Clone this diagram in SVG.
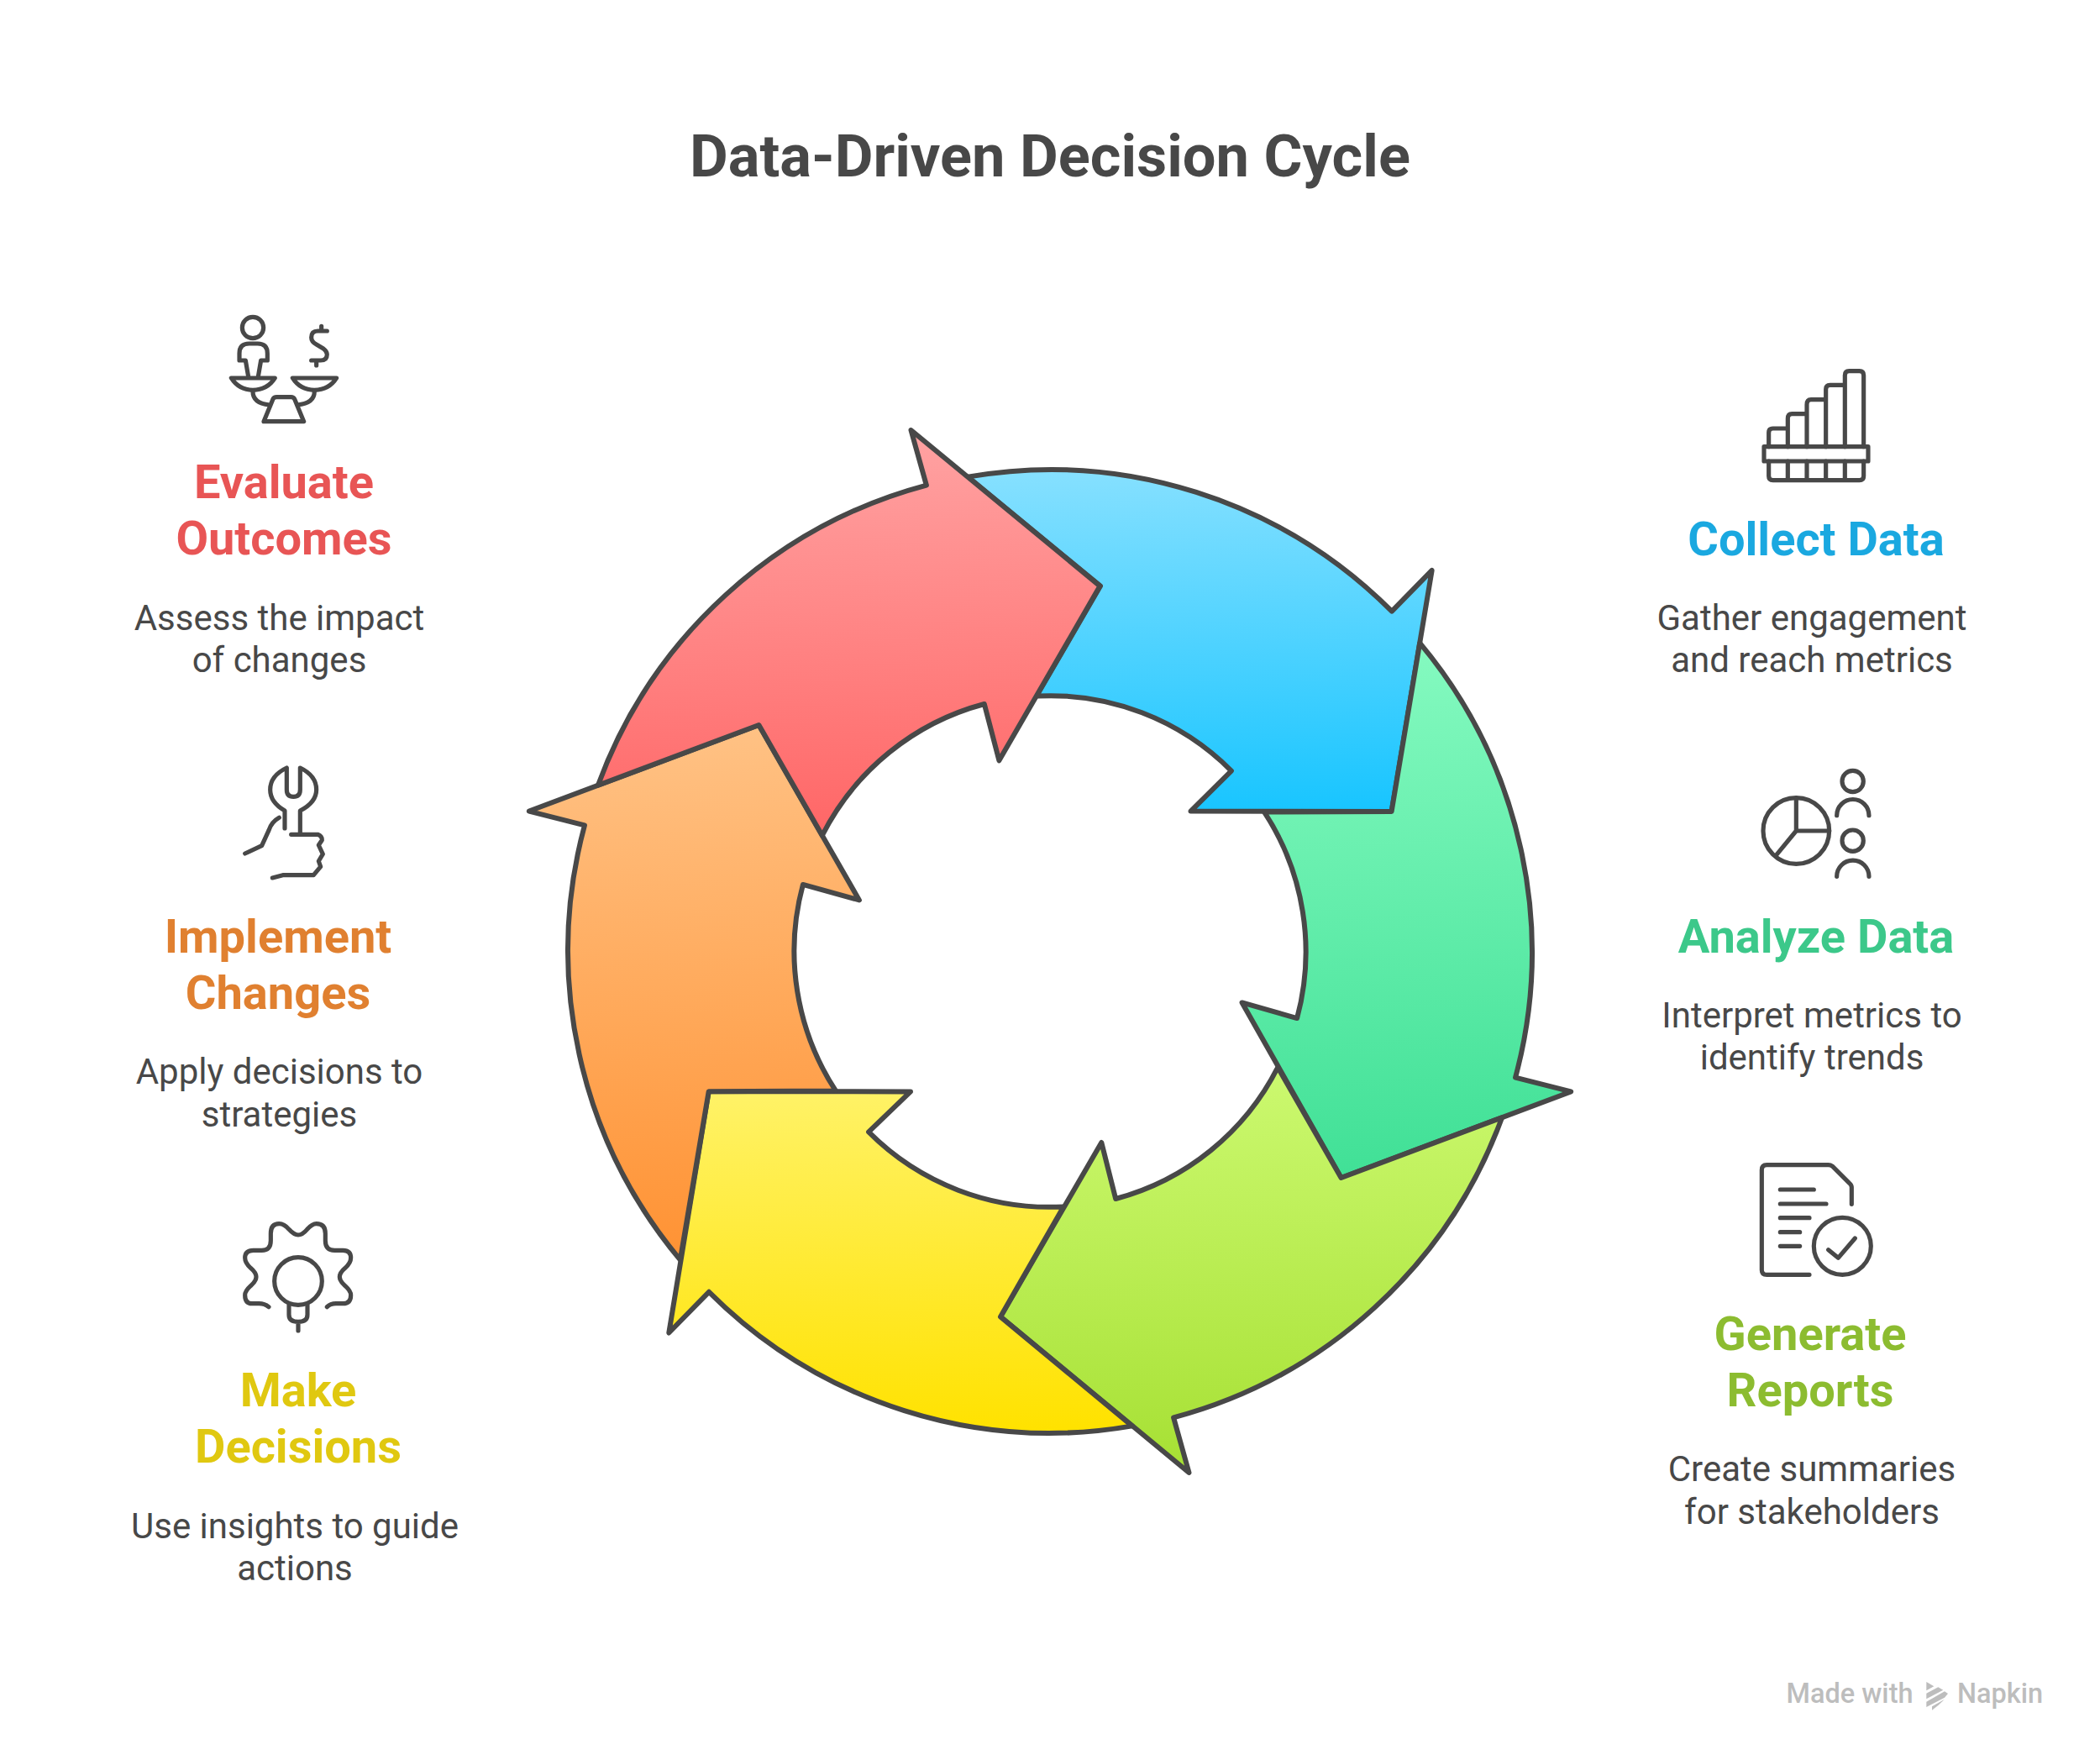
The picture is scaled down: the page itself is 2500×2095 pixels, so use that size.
<svg xmlns="http://www.w3.org/2000/svg" width="2500" height="2095" viewBox="0 0 2500 2095">
<style>
text{font-family:Roboto,"Liberation Sans",sans-serif;text-anchor:middle}
.title{font-size:70.4px;font-weight:700;fill:#484848}
.h{font-size:56px;font-weight:700}
.d{font-size:42px;font-weight:400;fill:#484848}
.arrow{stroke:#484848;stroke-width:6;stroke-linejoin:round}
.ic{fill:none;stroke:#484848;stroke-width:15.5;stroke-linecap:round;stroke-linejoin:round}
.wm{font-size:32.5px;fill:#bdbdbd;font-weight:500}
</style>
<defs>
<linearGradient id="gRed" x1=".48" y1="0" x2=".52" y2="1"><stop offset="0" stop-color="#ffa3a3"/><stop offset="1" stop-color="#ff6666"/></linearGradient>
<linearGradient id="gBlue" x1=".48" y1="0" x2=".52" y2="1"><stop offset="0" stop-color="#85e0ff"/><stop offset="1" stop-color="#19c5ff"/></linearGradient>
<linearGradient id="gTeal" x1=".48" y1="0" x2=".52" y2="1"><stop offset="0" stop-color="#85fac0"/><stop offset="1" stop-color="#40e096"/></linearGradient>
<linearGradient id="gGreen" x1=".48" y1="0" x2=".52" y2="1"><stop offset="0" stop-color="#ccf970"/><stop offset="1" stop-color="#a6e033"/></linearGradient>
<linearGradient id="gYellow" x1=".48" y1="0" x2=".52" y2="1"><stop offset="0" stop-color="#fff266"/><stop offset="1" stop-color="#ffe200"/></linearGradient>
<linearGradient id="gOrange" x1=".48" y1="0" x2=".52" y2="1"><stop offset="0" stop-color="#ffc285"/><stop offset="1" stop-color="#ff9233"/></linearGradient>
</defs>
<rect width="2500" height="2095" fill="#fff"/>
<text class="title" x="1250" y="210">Data-Driven Decision Cycle</text>
<g id="connectors">
<path id="arrow-blue" class="arrow" fill="url(#gBlue)" d="M1152.15 567.65A573.5 573.5 0 0 1 1656.95 727.65L1704.65 678.95L1656.6 966L1417.5 965.6L1465.9 917.55A304 304 0 0 0 1233.9 828.6L1310 697.6Z"/>
<path id="arrow-teal" class="arrow" fill="url(#gTeal)" d="M1690.25 765.35A573.5 573.5 0 0 1 1804.05 1282.55L1870.15 1299.45L1596.6 1401.95L1478.6 1193.4L1544.1 1212.05A304 304 0 0 0 1505.1 966.6L1656.6 966Z"/>
<path id="arrow-green" class="arrow" fill="url(#gGreen)" d="M1788.1 1330.2A573.5 573.5 0 0 1 1397.1 1687.4L1415.5 1753L1191 1567.4L1311.3 1360L1328.2 1427A304 304 0 0 0 1521.2 1270.5L1596.6 1401.95Z"/>
<path id="arrow-yellow" class="arrow" fill="url(#gYellow)" d="M1347.85 1697.35A573.5 573.5 0 0 1 844 1537.8L796.3 1586.5L843.7 1299.2L1084 1299.4L1034.1 1347.45A304 304 0 0 0 1266.1 1436.4L1191 1567.4Z"/>
<path id="arrow-orange" class="arrow" fill="url(#gOrange)" d="M809.75 1499.65A573.5 573.5 0 0 1 695.95 982.45L629.85 965.55L903.4 863.05L1022.9 1071.4L955.9 1052.95A304 304 0 0 0 994.9 1298.4L843.7 1299.2Z"/>
<path id="arrow-red" class="arrow" fill="url(#gRed)" d="M711.9 934.8A573.5 573.5 0 0 1 1102.9 577.6L1084.5 512L1309.5 697.6L1189.4 905.3L1171.8 838A304 304 0 0 0 978.8 994.5L903.4 863Z"/>
</g>
<g id="node-evaluate">
<g class="ic" transform="translate(250 360) scale(.3333)">
<circle cx="153" cy="90" r="38"/>
<path d="M137 265L127 207H105V182Q105 147 140 147H170Q205 147 205 182V207H182L172 265"/>
<path d="M76 270H232Q205 313 153 313Q103 313 76 270Z"/>
<path d="M295 270H452Q425 313 373 313Q322 313 295 270Z"/>
<path d="M153 318Q153 360 212 366M373 318Q373 360 312 366"/>
<path d="M192 425L225 345Q228 338 238 338H290Q298 338 302 345L335 425Z"/>
<path d="M418 102H385Q362 102 362 125Q362 140 380 150L405 165Q418 175 418 185Q418 207 395 207H362M398 85V102M380 207V225"/>
</g>
<text class="h" fill="#e85555" x="338" y="593">Evaluate</text>
<text class="h" fill="#e85555" x="338" y="660">Outcomes</text>
<text class="d" x="332.5" y="750">Assess the impact</text>
<text class="d" x="332.5" y="800">of changes</text>
</g>
<g id="node-implement">
<g class="ic" transform="translate(270 900) scale(.3333)">
<path d="M214 42Q155 70 155 120Q155 165 207 195V258M214 42V120Q214 145 238 145Q262 145 262 120V42Q320 70 320 120Q320 165 262 195V280"/>
<path d="M230 280H325Q340 285 340 300L328 318L343 350L328 375L335 395L310 425H200L163 435"/>
<path d="M187 220Q160 235 150 265L125 320L65 348"/>
</g>
<text class="h" fill="#e08030" x="331" y="1134">Implement</text>
<text class="h" fill="#e08030" x="331" y="1201">Changes</text>
<text class="d" x="332.5" y="1290">Apply decisions to</text>
<text class="d" x="332.5" y="1341">strategies</text>
</g>
<g id="node-decide">
<g class="ic" transform="translate(270 1440) scale(.3333)">
<path d="M150 347Q135 335 115 335H90Q65 335 65 305Q65 290 85 272Q105 255 105 240Q105 225 85 208Q65 190 65 172Q65 145 95 145H125Q157 145 157 110V85Q157 50 187 50Q205 50 222 70Q240 90 255 90Q270 90 287 70Q305 50 320 50Q352 50 352 85V110Q352 145 385 145H415Q443 145 443 172Q443 190 423 208Q403 225 403 240Q403 255 423 272Q443 290 443 305Q443 335 415 335H390Q370 335 358 347"/>
<circle cx="255" cy="255" r="85"/>
<path d="M222 340V375Q222 400 255 400Q288 400 288 375V340M255 400V432"/>
</g>
<text class="h" fill="#e0c810" x="355" y="1674">Make</text>
<text class="h" fill="#e0c810" x="355" y="1741">Decisions</text>
<text class="d" x="351" y="1831">Use insights to guide</text>
<text class="d" x="351" y="1881">actions</text>
</g>
<g id="node-collect">
<g class="ic" transform="translate(2080 430) scale(.3333)">
<rect x="60" y="305" width="372" height="52"/>
<path d="M77 305V255Q77 240 92 240H145M145 305V205Q145 188 160 188H213M213 305V155Q213 137 228 137H281M281 305V100Q281 85 296 85H349M349 305V50Q349 35 364 35H401Q416 35 416 50V305"/>
<path d="M77 357V410Q77 425 92 425H401Q416 425 416 410V357M145 357V420M213 357V420M281 357V420M349 357V420"/>
</g>
<text class="h" fill="#1aa8e0" x="2162" y="661">Collect Data</text>
<text class="d" x="2157" y="750">Gather engagement</text>
<text class="d" x="2157" y="800">and reach metrics</text>
</g>
<g id="node-analyze">
<g class="ic" transform="translate(2080 900) scale(.3333)">
<circle cx="175" cy="267" r="118"/>
<path d="M175 150V267H293M175 267L105 352"/>
<circle cx="377" cy="90" r="38"/>
<path d="M320 212A57 57 0 0 1 435 212"/>
<circle cx="377" cy="302" r="38"/>
<path d="M320 430A57 57 0 0 1 435 430"/>
</g>
<text class="h" fill="#3cc88a" x="2162" y="1134">Analyze Data</text>
<text class="d" x="2157" y="1223">Interpret metrics to</text>
<text class="d" x="2157" y="1273">identify trends</text>
</g>
<g id="node-generate">
<g class="ic" transform="translate(2080 1370) scale(.3333)">
<path d="M373 190V130Q373 122 365 115L305 55Q298 50 290 50H70Q52 50 52 68V425Q52 442 70 442H222"/>
<path d="M118 138H238M118 189H282M118 239H222M118 290H188M118 340H188"/>
<circle cx="340" cy="340" r="102"/>
<path d="M290 353L325 382L385 312"/>
</g>
<text class="h" fill="#8cbc30" x="2155" y="1607">Generate</text>
<text class="h" fill="#8cbc30" x="2155" y="1674">Reports</text>
<text class="d" x="2157" y="1763">Create summaries</text>
<text class="d" x="2157" y="1814">for stakeholders</text>
</g>
<g id="watermark">
<text class="wm" x="2202" y="2027">Made with</text>
<g fill="#bdbdbd" transform="translate(2100 1980) scale(.3333)">
<polygon points="580,66 607,82 580,97"/>
<polygon points="580,107 622,85 640,95 580,127"/>
<polygon points="580,137 645,100 657,108 645,122 580,156"/>
<polygon points="600,167 600,154 645,128 622,150"/>
</g>
<text class="wm" x="2381" y="2027">Napkin</text>
</g>
</svg>
